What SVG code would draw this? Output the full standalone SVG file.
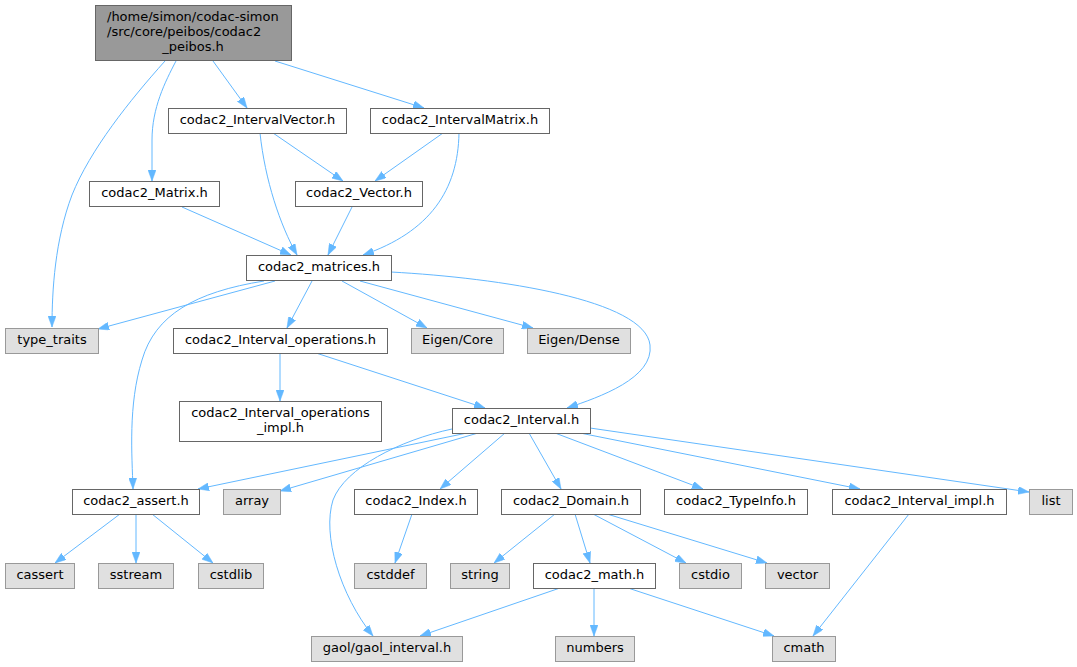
<svg xmlns="http://www.w3.org/2000/svg" width="1077" height="667" viewBox="0 0 1077 667">
<style>
.n rect{fill:#ffffff;stroke:#666666;stroke-width:1}
.g rect{fill:#e0e0e0;stroke:#999999;stroke-width:1}
.r rect{fill:#999999;stroke:#666666;stroke-width:1}
text{font-family:"DejaVu Sans","Liberation Sans",sans-serif;font-size:13px;fill:#000000;text-anchor:middle}
#edges path{fill:none;stroke:#63b8ff;stroke-width:1;marker-end:url(#ah)}
</style>
<defs>
<marker id="ah" viewBox="0 0 11 8" refX="11" refY="4" markerWidth="11" markerHeight="8" markerUnits="userSpaceOnUse" orient="auto">
<path d="M0,0 L11,4 L0,8 z" fill="#63b8ff" stroke="#63b8ff" stroke-width="0.5"/>
</marker>
</defs>
<rect x="0" y="0" width="1077" height="667" fill="#ffffff"/>
<g id="edges">
<path d="M165,61 C130,100 90,150 72,195 C55,240 52,290 52,327"/>
<path d="M176,61 C165,82 152,108 152,140 L152,181"/>
<path d="M213,61 L247,108"/>
<path d="M275,61 L424,108"/>
<path d="M273,133 L343,181"/>
<path d="M260,133 C265,180 280,225 297,255"/>
<path d="M443,133 L375,181"/>
<path d="M459,133 C458,190 430,232 363,255"/>
<path d="M182,207 L291,255"/>
<path d="M352,207 L328,255"/>
<path d="M275,281 L98,329"/>
<path d="M264,281 C195,292 155,315 142,360 C128,405 132,455 133,489"/>
<path d="M312,281 L287,328"/>
<path d="M342,281 L427,328"/>
<path d="M360,281 L533,328"/>
<path d="M391,272 C500,278 645,300 650,345 C654,378 600,397 567,408"/>
<path d="M280,353 L280,401"/>
<path d="M316,353 L485,408"/>
<path d="M467,433 L198,489"/>
<path d="M478,433 L280,491"/>
<path d="M452,429 C400,440 345,468 333,500 C322,535 340,595 373,636"/>
<path d="M505,433 L440,489"/>
<path d="M529,433 L561,489"/>
<path d="M555,433 L703,489"/>
<path d="M580,433 L860,489"/>
<path d="M590,428 L1029,492"/>
<path d="M412,514 L395,563"/>
<path d="M555,514 L494,563"/>
<path d="M575,514 L590,563"/>
<path d="M593,514 L686,563"/>
<path d="M607,514 L767,563"/>
<path d="M560,588 L420,636"/>
<path d="M594,588 L594,636"/>
<path d="M628,588 L774,636"/>
<path d="M909,514 L813,636"/>
<path d="M120,514 L55,563"/>
<path d="M136,514 L136,563"/>
<path d="M152,514 L213,563"/>
</g>
<g id="root" class="r"><rect x="95.5" y="5.5" width="196" height="55"/>
<text x="107" y="20.5" style="text-anchor:start">/home/simon/codac-simon</text>
<text x="107" y="35.5" style="text-anchor:start">/src/core/peibos/codac2</text>
<text x="193" y="50.5">_peibos.h</text></g>
<g id="ivec" class="n"><rect x="168.5" y="108.5" width="178" height="25"/><text x="257.5" y="123.5">codac2_IntervalVector.h</text></g>
<g id="imat" class="n"><rect x="370.5" y="108.5" width="179" height="25"/><text x="460" y="123.5">codac2_IntervalMatrix.h</text></g>
<g id="matrix" class="n"><rect x="89.5" y="181.5" width="130" height="25"/><text x="154.5" y="196.5">codac2_Matrix.h</text></g>
<g id="vector" class="n"><rect x="295.5" y="181.5" width="127" height="25"/><text x="359" y="196.5">codac2_Vector.h</text></g>
<g id="matrices" class="n"><rect x="246.5" y="255.5" width="145" height="25"/><text x="319" y="270.5">codac2_matrices.h</text></g>
<g id="type_traits" class="g"><rect x="5.5" y="328.5" width="93" height="25"/><text x="52" y="343.5">type_traits</text></g>
<g id="iops" class="n"><rect x="173.5" y="328.5" width="214" height="25"/><text x="280.5" y="343.5">codac2_Interval_operations.h</text></g>
<g id="eigencore" class="g"><rect x="411.5" y="328.5" width="92" height="25"/><text x="457.5" y="343.5">Eigen/Core</text></g>
<g id="eigendense" class="g"><rect x="527.5" y="328.5" width="103" height="25"/><text x="579" y="343.5">Eigen/Dense</text></g>
<g id="iopsimpl" class="n"><rect x="179.5" y="401.5" width="202" height="40"/><text x="280.5" y="417">codac2_Interval_operations</text><text x="280.5" y="432">_impl.h</text></g>
<g id="interval" class="n"><rect x="452.5" y="408.5" width="138" height="25"/><text x="521.5" y="423.5">codac2_Interval.h</text></g>
<g id="assert" class="n"><rect x="72.5" y="489.5" width="127" height="25"/><text x="136" y="504.5">codac2_assert.h</text></g>
<g id="array" class="g"><rect x="223.5" y="489.5" width="57" height="25"/><text x="252" y="504.5">array</text></g>
<g id="index" class="n"><rect x="354.5" y="489.5" width="123" height="25"/><text x="416" y="504.5">codac2_Index.h</text></g>
<g id="domain" class="n"><rect x="501.5" y="489.5" width="139" height="25"/><text x="571" y="504.5">codac2_Domain.h</text></g>
<g id="typeinfo" class="n"><rect x="664.5" y="489.5" width="143" height="25"/><text x="736" y="504.5">codac2_TypeInfo.h</text></g>
<g id="iimpl" class="n"><rect x="832.5" y="489.5" width="174" height="25"/><text x="919.5" y="504.5">codac2_Interval_impl.h</text></g>
<g id="list" class="g"><rect x="1029.5" y="489.5" width="43" height="25"/><text x="1051" y="504.5">list</text></g>
<g id="cassert" class="g"><rect x="5.5" y="563.5" width="69" height="25"/><text x="40" y="578.5">cassert</text></g>
<g id="sstream" class="g"><rect x="98.5" y="563.5" width="75" height="25"/><text x="136" y="578.5">sstream</text></g>
<g id="cstdlib" class="g"><rect x="198.5" y="563.5" width="65" height="25"/><text x="231" y="578.5">cstdlib</text></g>
<g id="cstddef" class="g"><rect x="354.5" y="563.5" width="72" height="25"/><text x="390.5" y="578.5">cstddef</text></g>
<g id="string" class="g"><rect x="450.5" y="563.5" width="59" height="25"/><text x="480" y="578.5">string</text></g>
<g id="math" class="n"><rect x="533.5" y="563.5" width="122" height="25"/><text x="594.5" y="578.5">codac2_math.h</text></g>
<g id="cstdio" class="g"><rect x="679.5" y="563.5" width="62" height="25"/><text x="710.5" y="578.5">cstdio</text></g>
<g id="vector_std" class="g"><rect x="765.5" y="563.5" width="64" height="25"/><text x="797.5" y="578.5">vector</text></g>
<g id="gaol" class="g"><rect x="311.5" y="636.5" width="151" height="25"/><text x="387" y="651.5">gaol/gaol_interval.h</text></g>
<g id="numbers" class="g"><rect x="555.5" y="636.5" width="79" height="25"/><text x="595" y="651.5">numbers</text></g>
<g id="cmath" class="g"><rect x="772.5" y="636.5" width="63" height="25"/><text x="804" y="651.5">cmath</text></g>
</svg>
